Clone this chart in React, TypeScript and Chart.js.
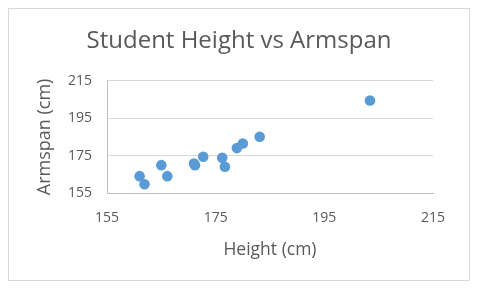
import React, { useEffect, useRef } from "react";
import { Chart, registerables } from "chart.js";

Chart.register(...registerables);

const chartTitle = "Student Height vs Armspan";
const xAxisTitle = "Height (cm)";
const yAxisTitle = "Armspan (cm)";
const heights = [161.0, 161.9, 165.0, 166.1, 171.0, 171.2, 172.7, 176.2, 176.7, 178.9, 180.0, 183.1, 203.4];
const armspans = [164.0, 159.7, 169.9, 164.0, 170.8, 169.9, 174.4, 173.8, 169.0, 179.0, 181.5, 185.1, 204.5];
const axisMin = 155;
const axisMax = 215;
const axisStep = 20;

const FONT = "'Open Sans', 'Noto Sans', sans-serif";
const TEXT = "#595959";

export default function App() {
  const ref = useRef<HTMLCanvasElement | null>(null);
  useEffect(() => {
    if (!ref.current) return;
    const points = heights.map((h, i) => ({ x: h, y: armspans[i] }));
    const chart = new Chart(ref.current, {
      type: "scatter",
      data: {
        datasets: [
          {
            data: points,
            backgroundColor: "#5B9BD5",
            borderColor: "#5B9BD5",
            pointRadius: 5.3,
            pointHoverRadius: 5.3,
            borderWidth: 0,
          },
        ],
      },
      options: {
        responsive: false,
        animation: false,
        layout: { padding: 0 },
        plugins: {
          legend: { display: false },
          tooltip: { enabled: false },
          title: {
            display: true,
            text: chartTitle,
            color: TEXT,
            font: { family: FONT, size: 24, weight: "normal" },
            padding: { top: 18, bottom: 25 },
          },
        },
        scales: {
          x: {
            type: "linear",
            min: axisMin,
            max: axisMax,
            ticks: {
              stepSize: axisStep,
              color: TEXT,
              font: { family: FONT, size: 14 },
              padding: 17,
            },
            grid: { display: false, drawTicks: false },
            border: { display: true, color: "#BFBFBF", width: 1 },
            title: {
              display: true,
              text: xAxisTitle,
              color: TEXT,
              font: { family: FONT, size: 17.5 },
              padding: { top: 0, bottom: 19 },
            },
            afterFit: (scale: any) => {
              scale.height = 87;
              scale.paddingRight = 36;
            },
          },
          y: {
            type: "linear",
            min: axisMin,
            max: axisMax,
            ticks: {
              stepSize: axisStep,
              color: TEXT,
              font: { family: FONT, size: 14 },
              padding: 15,
            },
            grid: { color: "#D9D9D9", lineWidth: 1, drawTicks: false },
            border: { display: true, color: "#BFBFBF", width: 1 },
            title: {
              display: true,
              text: yAxisTitle,
              color: TEXT,
              font: { family: FONT, size: 18 },
              padding: { top: 25, bottom: 0 },
            },
            afterFit: (scale: any) => {
              scale.width = 98;
            },
          },
        },
      },
    });
    return () => chart.destroy();
  }, []);
  return (
    <div
      style={{
        width: 462,
        height: 273,
        border: "1px solid #D9D9D9",
        boxSizing: "border-box",
        background: "#fff",
      }}
    >
      <canvas ref={ref} width={460} height={271} style={{ display: "block" }} />
    </div>
  );
}
